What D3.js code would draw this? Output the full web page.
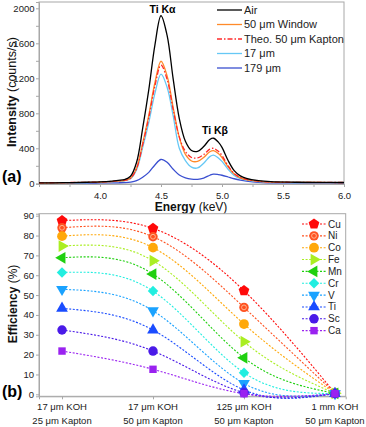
<!DOCTYPE html>
<html>
<head>
<meta charset="utf-8">
<script src="https://cdn.jsdelivr.net/npm/d3@7"></script>
<style>
  body { margin: 0; background: #fff; }
  svg { display: block; font-family: "Liberation Sans", Arial, sans-serif; }
</style>
</head>
<body>
<div id="chart"></div>
<script>
// ---- panel (a): spectra ----
const energy   = [3.5, 3.7, 3.9, 4.0, 4.1, 4.15, 4.2, 4.25, 4.3, 4.35, 4.4, 4.45, 4.5, 4.55, 4.6, 4.65, 4.7, 4.75, 4.8, 4.85, 4.9, 4.93, 4.97, 5.0, 5.05, 5.1, 5.15, 5.2, 5.3, 5.4, 5.6, 5.8, 6.0];
const air      = [4, 7, 12, 16, 26, 34, 42, 80, 240, 630, 1070, 1580, 1915, 1690, 1190, 740, 480, 375, 365, 420, 500, 515, 470, 410, 260, 145, 85, 57, 30, 18, 12, 10, 9];
const window50 = [3, 6, 10, 13, 20, 26, 32, 58, 175, 458, 778, 1149, 1395, 1228, 865, 525, 330, 255, 250, 295, 360, 373, 340, 295, 188, 105, 62, 42, 23, 14, 10, 9, 8];
const theo50   = [5, 8, 12, 15, 22, 28, 35, 58, 170, 443, 752, 1111, 1350, 1188, 840, 530, 365, 295, 290, 330, 390, 400, 365, 318, 200, 112, 66, 44, 24, 15, 11, 10, 9];
const um17     = [3, 5, 9, 12, 18, 23, 29, 52, 156, 410, 696, 1027, 1247, 1098, 770, 400, 260, 185, 175, 230, 305, 322, 290, 250, 160, 90, 53, 36, 20, 13, 9, 8, 7];
const um179    = [1, 2, 3, 4, 5, 6, 8, 14, 30, 70, 125, 210, 272, 240, 160, 95, 62, 48, 46, 60, 92, 105, 100, 92, 72, 52, 36, 24, 10, 6, 4, 3, 3];

const spectraNames  = ["Air", "50 \u03bcm Window", "Theo. 50 \u03bcm Kapton", "17 \u03bcm", "179 \u03bcm"];
const spectraColors = ["#000000", "#ff8a2a", "#ff2a2a", "#66c8f5", "#3a4fd0"];
const spectraDash   = [null, null, "5,2,1.5,2", null, null];
const spectraValues = [air, window50, theo50, um17, um179];

const intensityTicks = [0, 400, 800, 1200, 1600, 2000];
const energyTicks = [4.0, 4.5, 5.0, 5.5, 6.0];

// ---- panel (b): efficiency ----
const samples = [["17 \u03bcm KOH", "25 \u03bcm Kapton"], ["17 \u03bcm KOH", "50 \u03bcm Kapton"], ["125 \u03bcm KOH", "50 \u03bcm Kapton"], ["1 mm KOH", "50 \u03bcm Kapton"]];
const elements = ["Cu", "Ni", "Co", "Fe", "Mn", "Cr", "V", "Ti", "Sc", "Ca"];
const effCu = [87.5, 83.6, 52.2, 0.6];
const effNi = [83.9, 79.4, 43.8, 0.6];
const effCo = [79.7, 73.9, 35.4, 0.5];
const effFe = [74.7, 67.3, 26.5, 0.5];
const effMn = [68.8, 60.6, 18.4, 0.5];
const effCr = [61.4, 52.0, 10.9, 0.4];
const effV  = [52.9, 42.1, 5.5, 0.4];
const effTi = [43.3, 32.4, 2.2, 0.4];
const effSc = [32.4, 21.8, 0.8, 0.3];
const effCa = [21.8, 12.6, 0.3, 0.3];
const effValues = [effCu, effNi, effCo, effFe, effMn, effCr, effV, effTi, effSc, effCa];
const effColors = ["#ff0a0a", "#ff5220", "#ffa80a", "#aaee22", "#20d010", "#22eee0", "#1aa2ff", "#1a4cff", "#4a1ae8", "#9a22f0"];
const effTicks = [0, 10, 20, 30, 40, 50, 60, 70, 80, 90];

const W = 366, H = 427;
const svg = d3.select("#chart").append("svg").attr("width", W).attr("height", H);
const axisGrey = "#a8a8a8";
const tickFont = "9.5px";

// ================= panel (a) =================
const xA = d3.scaleLinear().domain([3.5, 6.0]).range([39, 344]);
const yA = d3.scaleLinear().domain([-8, 2072]).range([184, 2]);

svg.append("rect")
  .attr("x", 39).attr("y", 2).attr("width", 305).attr("height", 182)
  .attr("fill", "none").attr("stroke", axisGrey).attr("stroke-width", 1);

const gxA = svg.append("g").attr("transform", "translate(0,184)")
  .call(d3.axisBottom(xA).tickValues(d3.range(3.5, 6.001, 0.25)).tickSize(3)
    .tickFormat(d => energyTicks.some(t => Math.abs(t - d) < 1e-6) ? d3.format(".1f")(d) : ""));
const gyA = svg.append("g").attr("transform", "translate(39,0)")
  .call(d3.axisLeft(yA).tickValues(d3.range(0, 2001, 200)).tickSize(3).tickPadding(1.5)
    .tickFormat(d => intensityTicks.includes(d) ? d : ""));
[gxA, gyA].forEach(g => {
  g.select(".domain").attr("stroke", axisGrey);
  g.selectAll(".tick line").attr("stroke", axisGrey);
  g.selectAll(".tick text").attr("fill", "#222").style("font-size", tickFont);
});
gxA.selectAll(".tick text").attr("dy", "0.9em");

const specLine = d3.line().x((d, i) => xA(energy[i])).y(d => yA(d)).curve(d3.curveCatmullRom.alpha(0.5));
const specOrder = [4, 3, 1, 2, 0];
specOrder.forEach(k => {
  svg.append("path")
    .datum(spectraValues[k])
    .attr("fill", "none")
    .attr("stroke", spectraColors[k])
    .attr("stroke-width", 1.3)
    .attr("stroke-dasharray", spectraDash[k])
    .attr("d", specLine);
});

svg.append("text").attr("x", 162.5).attr("y", 13).attr("text-anchor", "middle")
  .style("font-size", "10.5px").style("font-weight", "bold").text("Ti K\u03b1");
svg.append("text").attr("x", 215).attr("y", 134).attr("text-anchor", "middle")
  .style("font-size", "10.5px").style("font-weight", "bold").text("Ti K\u03b2");

// legend (a)
spectraNames.forEach((name, i) => {
  const y = 10 + i * 14.5;
  svg.append("line").attr("x1", 217).attr("x2", 242).attr("y1", y).attr("y2", y)
    .attr("stroke", spectraColors[i]).attr("stroke-width", 1.3)
    .attr("stroke-dasharray", spectraDash[i]);
  svg.append("text").attr("x", 244).attr("y", y).attr("dy", "0.35em")
    .style("font-size", "11px").attr("fill", "#222").text(name);
});

// axis titles (a)
const yTitleA = svg.append("text").attr("transform", "translate(16,92) rotate(-90)")
  .attr("text-anchor", "middle").style("font-size", "12.5px").attr("fill", "#111");
yTitleA.append("tspan").style("font-weight", "bold").text("Intensity ");
yTitleA.append("tspan").text("(counts/s)");

const xTitleA = svg.append("text").attr("x", 191).attr("y", 211)
  .attr("text-anchor", "middle").style("font-size", "12px").attr("fill", "#111");
xTitleA.append("tspan").style("font-weight", "bold").text("Energy ");
xTitleA.append("tspan").text("(keV)");

svg.append("text").attr("x", 2).attr("y", 182).style("font-size", "16px")
  .style("font-weight", "bold").text("(a)");

// ================= panel (b) =================
const xB = d3.scaleLinear().domain([-0.253, 3.118]).range([39, 345.7]);
const yB = d3.scaleLinear().domain([-1, 91]).range([396.3, 213.7]);

svg.append("rect")
  .attr("x", 39).attr("y", 213.7).attr("width", 306.7).attr("height", 182.6)
  .attr("fill", "none").attr("stroke", axisGrey).attr("stroke-width", 1);

const gxB = svg.append("g").attr("transform", "translate(0,396.3)")
  .call(d3.axisBottom(xB).tickValues([0, 1, 2, 3]).tickSize(3).tickFormat(""));
const gyB = svg.append("g").attr("transform", "translate(39,0)")
  .call(d3.axisLeft(yB).tickValues(effTicks).tickSize(3).tickPadding(2));
[gxB, gyB].forEach(g => {
  g.select(".domain").attr("stroke", axisGrey);
  g.selectAll(".tick line").attr("stroke", axisGrey);
  g.selectAll(".tick text").attr("fill", "#222").style("font-size", tickFont);
});

samples.forEach((lines, i) => {
  const t = svg.append("text").attr("text-anchor", "middle").style("font-size", tickFont).attr("fill", "#222");
  lines.forEach((s, j) => {
    t.append("tspan").attr("x", xB(i)).attr("y", 410 + j * 13.5).text(s);
  });
});

const effLine = d3.line().x((d, i) => xB(i)).y(d => yB(d)).curve(d3.curveNatural);
effValues.forEach((vals, k) => {
  svg.append("path").datum(vals)
    .attr("fill", "none").attr("stroke", effColors[k]).attr("stroke-width", 1.1)
    .attr("stroke-dasharray", "2,1.6").attr("d", effLine);
});

// marker shapes
const pentagon = {
  draw(ctx, size) {
    const r = Math.sqrt(size / 2.378);
    for (let i = 0; i < 5; i++) {
      const a = -Math.PI / 2 + i * 2 * Math.PI / 5;
      if (i === 0) ctx.moveTo(r * Math.cos(a), r * Math.sin(a));
      else ctx.lineTo(r * Math.cos(a), r * Math.sin(a));
    }
    ctx.closePath();
  }
};
const markerDefs = [
  { type: pentagon, rot: 0, size: 75 },
  { type: d3.symbolCircle, rot: 0, size: 70, ring: true },
  { type: d3.symbolCircle, rot: 0, size: 75 },
  { type: d3.symbolTriangle, rot: 90, size: 60 },
  { type: d3.symbolTriangle, rot: -90, size: 60 },
  { type: d3.symbolSquare, rot: 45, size: 55 },
  { type: d3.symbolTriangle, rot: 180, size: 60 },
  { type: d3.symbolTriangle, rot: 0, size: 60 },
  { type: d3.symbolCircle, rot: 0, size: 70 },
  { type: d3.symbolSquare, rot: 0, size: 55 }
];

function drawMarker(g, k, x, y) {
  const m = markerDefs[k];
  g.append("path")
    .attr("d", d3.symbol().type(m.type).size(m.size)())
    .attr("transform", `translate(${x},${y}) rotate(${m.rot})`)
    .attr("fill", effColors[k]);
  if (m.ring) {
    g.append("circle").attr("cx", x).attr("cy", y).attr("r", 2.4)
      .attr("fill", "none").attr("stroke", "#ffb58f").attr("stroke-width", 1);
  }
}

const markers = svg.append("g");
effValues.forEach((vals, k) => {
  vals.forEach((v, i) => drawMarker(markers, k, xB(i), yB(v)));
});

// legend (b)
elements.forEach((name, k) => {
  const y = 224 + k * 11.85;
  svg.append("line").attr("x1", 302).attr("x2", 326).attr("y1", y).attr("y2", y)
    .attr("stroke", effColors[k]).attr("stroke-width", 1.1).attr("stroke-dasharray", "2,1.6");
  drawMarker(svg, k, 314, y);
  svg.append("text").attr("x", 328).attr("y", y).attr("dy", "0.35em")
    .style("font-size", "10px").attr("fill", "#222").text(name);
});

// axis titles (b)
const yTitleB = svg.append("text").attr("transform", "translate(17,304) rotate(-90)")
  .attr("text-anchor", "middle").style("font-size", "12px").attr("fill", "#111");
yTitleB.append("tspan").style("font-weight", "bold").text("Efficiency ");
yTitleB.append("tspan").text("(%)");

svg.append("text").attr("x", 2).attr("y", 397).style("font-size", "16px")
  .style("font-weight", "bold").text("(b)");
</script>
</body>
</html>
